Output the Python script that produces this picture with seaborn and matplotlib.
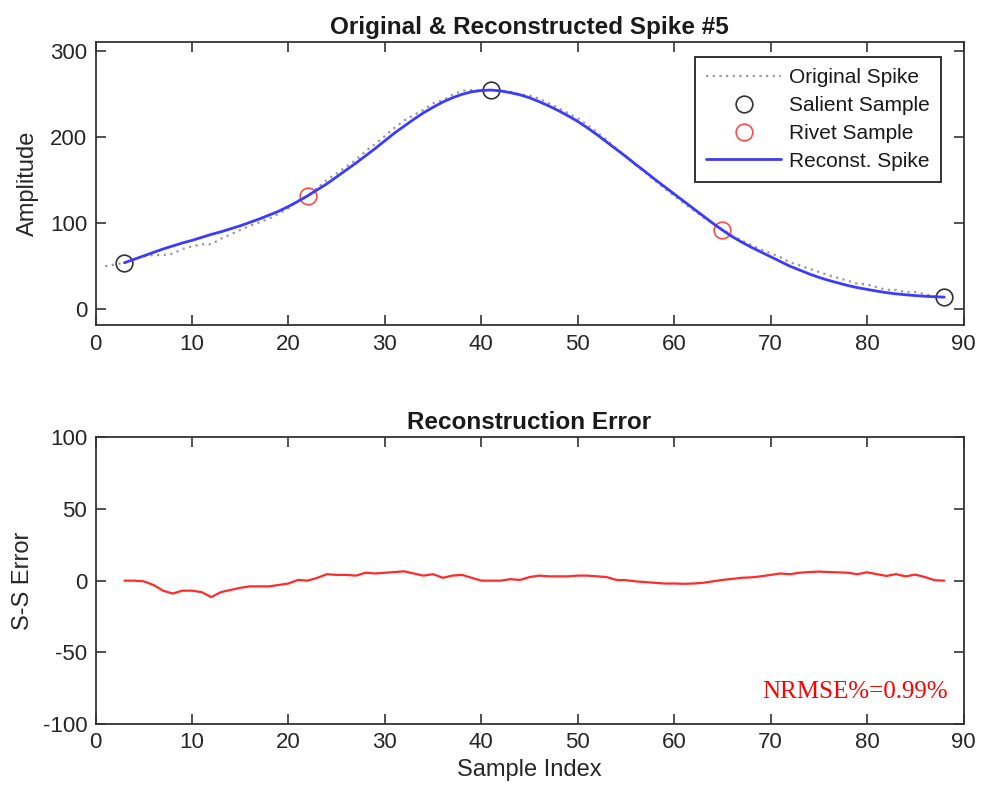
import matplotlib
matplotlib.use("Agg")
import matplotlib.pyplot as plt
import seaborn as sns
import numpy as np

# ---------------- data ----------------
orig_x = list(range(1, 89))
orig_y = [50, 52, 54, 58, 61.5, 63, 63, 64.5, 70, 73, 75.5, 75.5, 82, 87, 92, 97, 101,
          105.5, 111, 117.5, 126, 132, 141, 150.5, 158, 166, 173.5, 184, 192, 201.5,
          211, 219.5, 226, 232, 239.5, 243, 249.5, 254, 255, 254.5, 255, 254, 253,
          250, 248.5, 245, 239.5, 234, 228, 222, 214.5, 206, 197, 186.5, 177.8, 168,
          159, 149.5, 140.5, 132, 123.3, 115, 107, 99.5, 92.5, 85.7, 80, 74.3, 69.5,
          65, 60.5, 54.5, 51, 47, 43.3, 39.5, 36.3, 33, 29.5, 28.8, 25.5, 22.5, 22.3,
          19.7, 20, 17.5, 14.7, 14]

rec_x = list(range(3, 89))
rec_y = [54, 58, 62, 66, 70, 73.5, 77, 80, 83.5, 87, 90, 93.5, 97, 101, 105, 109.5,
         114, 119.5, 125.5, 132, 139, 146, 154, 162, 170, 178.5, 187, 196, 205, 213,
         221, 228.5, 235, 241, 246, 250, 253, 254.5, 255, 254, 252, 249.5, 246, 241.5,
         236.5, 231, 225, 218.5, 211, 203, 194.5, 186, 177.5, 168.5, 160, 151, 142.5,
         134, 125.5, 117, 108.5, 100, 92, 84.5, 78, 72, 66.5, 61, 55.5, 50, 45.5, 41,
         37, 33.5, 30.5, 27.5, 25, 23, 21, 19.2, 17.8, 16.7, 15.8, 15, 14.4, 14]

err_y = [0, 0, -0.5, -3, -7, -9, -7, -7, -8, -11.5, -8, -6.5, -5, -4, -4, -4, -3, -2,
         0.5, 0, 2, 4.5, 4, 4, 3.5, 5.5, 5, 5.5, 6, 6.5, 5, 3.5, 4.5, 2, 3.5, 4, 2, 0,
         0, 0, 1, 0.5, 2.5, 3.5, 3, 3, 3, 3.5, 3.5, 3, 2.5, 0.5, 0.3, -0.5, -1, -1.5,
         -2, -2, -2.2, -2, -1.5, -0.5, 0.5, 1.2, 2, 2.3, 3, 4, 5, 4.5, 5.5, 6, 6.3, 6,
         5.8, 5.5, 4.5, 5.8, 4.5, 3.3, 4.5, 3, 4.2, 2.5, 0.3, 0]

salient_x = [3, 41, 88]
salient_y = [54, 255, 14]
rivet_x = [22, 65]
rivet_y = [132, 92.5]

x_ticks = [0, 10, 20, 30, 40, 50, 60, 70, 80, 90]
top_yticks = [0, 100, 200, 300]
bot_yticks = [-100, -50, 0, 50, 100]
nrmse_text = "NRMSE%=0.99%"

# ---------------- style ----------------
sns.set_theme(style="white")
plt.rcParams["font.family"] = ["Liberation Sans", "DejaVu Sans"]
plt.rcParams["axes.unicode_minus"] = False
TXT = "#262626"

fig = plt.figure(figsize=(9.82, 8.05), dpi=100)
ax1 = fig.add_axes([0.0973, 0.5957, 0.8839, 0.3522])
ax2 = fig.add_axes([0.0973, 0.1006, 0.8839, 0.3562])

# top plot
sns.lineplot(x=orig_x, y=orig_y, ax=ax1, color="#999999", linestyle=(0, (1, 2.0)),
             linewidth=1.6, label="Original Spike")
sns.lineplot(x=salient_x, y=salient_y, ax=ax1, linestyle="", marker="o",
             markersize=12, markerfacecolor="none", markeredgecolor="#333333",
             markeredgewidth=1.2, color="#333333", label="Salient Sample")
sns.lineplot(x=rivet_x, y=rivet_y, ax=ax1, linestyle="", marker="o",
             markersize=12, markerfacecolor="none", markeredgecolor="#ff4a4a",
             markeredgewidth=1.2, color="#ff4a4a", label="Rivet Sample")
sns.lineplot(x=rec_x, y=rec_y, ax=ax1, color="#3b3bff", linewidth=2.0,
             label="Reconst. Spike")

ax1.set_xlim(0, 90)
ax1.set_ylim(-19, 311)
ax1.set_xticks(x_ticks)
ax1.set_yticks(top_yticks)
ax1.set_title("Original & Reconstructed Spike #5", fontsize=17.5, fontweight="bold",
              color="#1a1a1a", pad=6)
ax1.set_ylabel("Amplitude", fontsize=17, color=TXT, labelpad=8)
ax1.set_xlabel("")
leg = ax1.legend(loc="upper right", bbox_to_anchor=(0.974, 0.947), borderaxespad=0,
                 fontsize=15, handlelength=3.6, handletextpad=0.35, labelspacing=0.42,
                 borderpad=0.55, fancybox=False, framealpha=1, edgecolor="#333333")
leg.get_frame().set_linewidth(1.4)
for t in leg.get_texts():
    t.set_color("#1a1a1a")

# bottom plot
sns.lineplot(x=rec_x, y=err_y, ax=ax2, color="#ff2a2a", linewidth=1.6)
ax2.set_xlim(0, 90)
ax2.set_ylim(-100, 100)
ax2.set_xticks(x_ticks)
ax2.set_yticks(bot_yticks)
ax2.set_title("Reconstruction Error", fontsize=17.5, fontweight="bold",
              color="#1a1a1a", pad=6)
ax2.set_ylabel("S-S Error", fontsize=17, color=TXT, labelpad=6)
ax2.set_xlabel("Sample Index", fontsize=17, color=TXT, labelpad=4)
ax2.text(88.4, -78, nrmse_text, ha="right", va="center", color="#ff0000",
         fontsize=18, family=["Liberation Serif", "DejaVu Serif"])

for ax in (ax1, ax2):
    for s in ax.spines.values():
        s.set_visible(True)
        s.set_color("#333333")
        s.set_linewidth(1.3)
    ax.tick_params(direction="in", length=7, width=1.2, colors="#333333",
                   labelcolor=TXT, labelsize=16, top=True, right=True,
                   bottom=True, left=True, pad=6)
    ax.grid(False)
    ax.set_facecolor("white")

fig.savefig("out.png", dpi=100, facecolor="white")
